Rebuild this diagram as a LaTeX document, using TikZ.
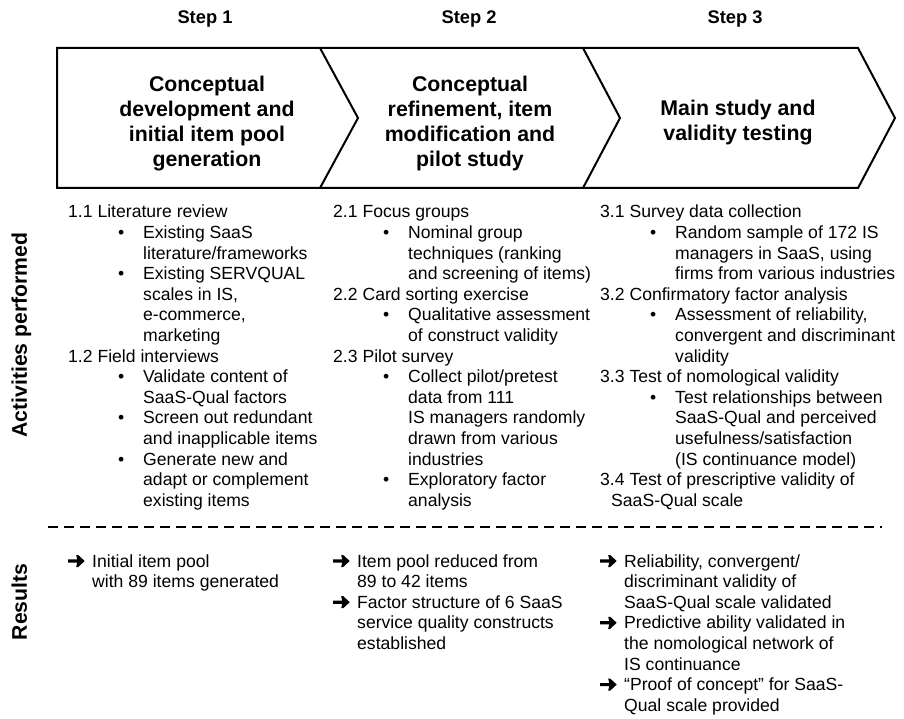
\documentclass[tikz,border=0pt]{standalone}
\usepackage{fontspec}
\setmainfont{Liberation Sans}
\newcommand\Bu{\hspace*{50pt}\makebox[25pt][l]{•}}
\newcommand\Co{\hspace*{75pt}}
\newcommand\Ar{\makebox[24pt][l]{\tikz[baseline={(0pt,-6pt)},x=1pt,y=1pt]\fill[black] (0,-1.6) -- (9,-1.6) -- (8,-6) -- (10,-6) -- (16.5,0) -- (10,6) -- (8,6) -- (9,1.6) -- (0,1.6) -- cycle;}}
\newcommand\Cr{\hspace*{24pt}}
\begin{document}
\begin{tikzpicture}[x=1pt,y=-1pt,
  steplabel/.style={font=\fontsize{18.3pt}{22pt}\selectfont\bfseries, inner sep=0, anchor=base},
  phase/.style={font=\fontsize{21.3pt}{25pt}\selectfont\bfseries, inner sep=0, anchor=base},
  body/.style={font=\fontsize{17.6pt}{20.6pt}\selectfont, inner sep=0, anchor=base west},
  side/.style={font=\fontsize{21.2pt}{25pt}\selectfont\bfseries, inner sep=0, anchor=base, rotate=90},
  outline/.style={line width=2pt, line join=miter},
  sepline/.style={line width=2pt, dash pattern=on 10pt off 6pt}]
\useasboundingbox (0,0) rectangle (904,719);

% chevron band
\draw[outline] (57,48) -- (858,48) -- (895,118) -- (858,188) -- (57,188) -- cycle;
\draw[outline] (320,48) -- (358,118) -- (320,188);
\draw[outline] (583,48) -- (620,118) -- (583,188);

% step labels
\node[steplabel] (s1) at (205,23.5) {Step 1};
\node[steplabel] (s2) at (469,23.5) {Step 2};
\node[steplabel] (s3) at (735,23.5) {Step 3};

% phase titles
\node[phase] (p1) at (207,92) {\begin{tabular}[t]{@{}c@{}}Conceptual\\development and\\initial item pool\\generation\end{tabular}};
\node[phase] (p2) at (470,92) {\begin{tabular}[t]{@{}c@{}}Conceptual\\refinement, item\\modification and\\pilot study\end{tabular}};
\node[phase] (p3) at (738,116) {\begin{tabular}[t]{@{}c@{}}Main study and\\validity testing\end{tabular}};

% side labels
\node[side] (la) at (27,335) {Activities performed};
\node[side] (lr) at (27,602) {Results};

% activities
\node[body] (a1) at (68,218) {\begin{tabular}[t]{@{}l@{}}
1.1 Literature review\\
\Bu Existing SaaS\\
\Co literature/frameworks\\
\Bu Existing SERVQUAL\\
\Co scales in IS,\\
\Co e-commerce,\\
\Co marketing\\
1.2 Field interviews\\
\Bu Validate content of\\
\Co SaaS-Qual factors\\
\Bu Screen out redundant\\
\Co and inapplicable items\\
\Bu Generate new and\\
\Co adapt or complement\\
\Co existing items
\end{tabular}};

\node[body] (a2) at (333,218) {\begin{tabular}[t]{@{}l@{}}
2.1 Focus groups\\
\Bu Nominal group\\
\Co techniques (ranking\\
\Co and screening of items)\\
2.2 Card sorting exercise\\
\Bu Qualitative assessment\\
\Co of construct validity\\
2.3 Pilot survey\\
\Bu Collect pilot/pretest\\
\Co data from 111\\
\Co IS managers randomly\\
\Co drawn from various\\
\Co industries\\
\Bu Exploratory factor\\
\Co analysis
\end{tabular}};

\node[body] (a3) at (600,218) {\begin{tabular}[t]{@{}l@{}}
3.1 Survey data collection\\
\Bu Random sample of 172 IS\\
\Co managers in SaaS, using\\
\Co firms from various industries\\
3.2 Confirmatory factor analysis\\
\Bu Assessment of reliability,\\
\Co convergent and discriminant\\
\Co validity\\
3.3 Test of nomological validity\\
\Bu Test relationships between\\
\Co SaaS-Qual and perceived\\
\Co usefulness/satisfaction\\
\Co (IS continuance model)\\
3.4 Test of prescriptive validity of\\
\hspace*{11pt}SaaS-Qual scale
\end{tabular}};

% separator
\coordinate (dl) at (48,527);
\coordinate (dr) at (882,527);
\draw[sepline] (dl) -- (dr);

% results
\node[body] (r1) at (68,567) {\begin{tabular}[t]{@{}l@{}}
\Ar Initial item pool\\
\Cr with 89 items generated
\end{tabular}};

\node[body] (r2) at (333,567) {\begin{tabular}[t]{@{}l@{}}
\Ar Item pool reduced from\\
\Cr 89 to 42 items\\
\Ar Factor structure of 6 SaaS\\
\Cr service quality constructs\\
\Cr established
\end{tabular}};

\node[body] (r3) at (600,567) {\begin{tabular}[t]{@{}l@{}}
\Ar Reliability, convergent/\\
\Cr discriminant validity of\\
\Cr SaaS-Qual scale validated\\
\Ar Predictive ability validated in\\
\Cr the nomological network of\\
\Cr IS continuance\\
\Ar “Proof of concept” for SaaS-\\
\Cr Qual scale provided
\end{tabular}};
\end{tikzpicture}
\end{document}
